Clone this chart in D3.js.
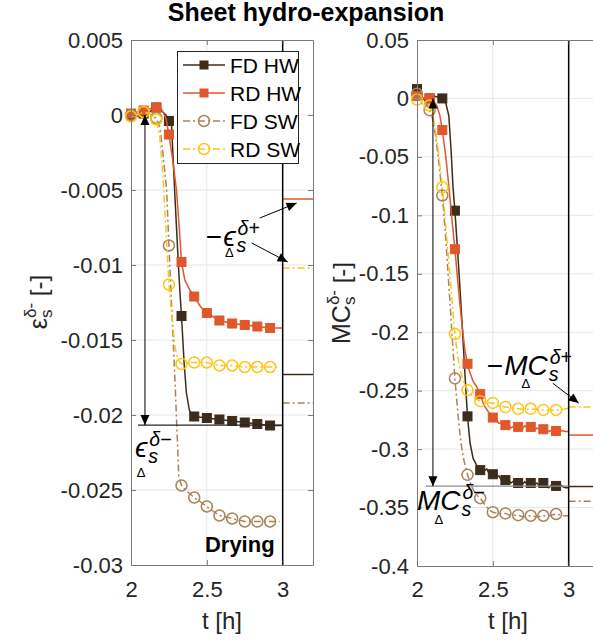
<!DOCTYPE html>
<html>
<head>
<meta charset="utf-8">
<script src="https://cdn.jsdelivr.net/npm/d3@7"></script>
<style>
  body { margin: 0; background: #fff; }
  text { font-family: "Liberation Sans", Arial, Helvetica, sans-serif; }
</style>
</head>
<body>
<svg id="chart" width="593" height="641"></svg>
<script>
// ---- data -------------------------------------------------------------
const seriesNames = ["FD HW", "RD HW", "FD SW", "RD SW"];
const seriesColors = ["#3d2c1c", "#e0572b", "#a8845a", "#ffc416"];
const seriesMarkers = ["square", "square", "circle", "circle"];
const seriesDash = [null, null, "7,3,2,3", "7,3,2,3"];

// marker sampling times [h]
const markerTimes = [2.0, 2.083, 2.167, 2.25, 2.333, 2.417, 2.5, 2.583, 2.667, 2.75, 2.833, 2.917];

// strain during drying, [t, eps]
const epsFdHw = [[2.0,0],[2.04,-0.0001],[2.083,0.0001],[2.12,0.0002],[2.167,0.0005],[2.2,0.0003],[2.23,0.0],[2.25,-0.0004],[2.267,-0.0006],[2.29,-0.0055],[2.31,-0.0095],[2.322,-0.0117],[2.333,-0.0134],[2.35,-0.0165],[2.365,-0.0185],[2.385,-0.0197],[2.417,-0.0201],[2.5,-0.0202],[2.583,-0.0203],[2.667,-0.0204],[2.75,-0.0205],[2.833,-0.0206],[2.917,-0.0207],[3.0,-0.0207]];
const epsRdHw = [[2.0,0.0001],[2.04,0.0002],[2.083,0.0003],[2.12,0.0004],[2.167,0.0005],[2.2,0.0004],[2.23,-0.0002],[2.25,-0.0013],[2.275,-0.003],[2.3,-0.005],[2.32,-0.0078],[2.333,-0.0098],[2.355,-0.011],[2.39,-0.0117],[2.417,-0.0121],[2.46,-0.0128],[2.5,-0.0132],[2.583,-0.0137],[2.667,-0.0139],[2.75,-0.014],[2.833,-0.0141],[2.917,-0.0142],[3.0,-0.0142]];
const epsFdSw = [[2.0,0.0],[2.04,0.0001],[2.083,0.0002],[2.12,0.0001],[2.167,-0.0002],[2.19,-0.0008],[2.21,-0.0025],[2.235,-0.005],[2.25,-0.0087],[2.27,-0.0132],[2.29,-0.0177],[2.305,-0.0215],[2.315,-0.0241],[2.333,-0.0247],[2.37,-0.0251],[2.417,-0.0255],[2.46,-0.0258],[2.5,-0.0261],[2.54,-0.0264],[2.583,-0.0267],[2.667,-0.0269],[2.75,-0.0271],[2.833,-0.0271],[2.917,-0.0271],[2.98,-0.0271]];
const epsRdSw = [[2.0,-0.0001],[2.04,0.0],[2.083,0.0002],[2.12,0.0001],[2.167,-0.0003],[2.19,-0.0015],[2.21,-0.004],[2.23,-0.0075],[2.25,-0.0113],[2.267,-0.0132],[2.29,-0.0155],[2.31,-0.0163],[2.333,-0.0166],[2.37,-0.0165],[2.417,-0.0165],[2.5,-0.0165],[2.583,-0.0167],[2.667,-0.0167],[2.75,-0.0168],[2.833,-0.0168],[2.917,-0.0168],[2.98,-0.0168]];
// levels reached after wetting (t > 3 h)
const epsAfter = [-0.0173, -0.0056, -0.0192, -0.0102];
const epsDeltaMinus = -0.02067;

// moisture content during drying, [t, MC]
const mcFdHw = [[2.0,0.008],[2.02,0.005],[2.04,0.0],[2.06,-0.003],[2.083,0.0],[2.11,0.002],[2.14,0.001],[2.167,0.0],[2.19,-0.004],[2.21,-0.015],[2.225,-0.045],[2.237,-0.075],[2.25,-0.096],[2.275,-0.145],[2.3,-0.198],[2.317,-0.238],[2.333,-0.272],[2.35,-0.295],[2.37,-0.308],[2.39,-0.313],[2.417,-0.318],[2.44,-0.319],[2.46,-0.317],[2.48,-0.322],[2.5,-0.3215],[2.52,-0.324],[2.54,-0.323],[2.56,-0.327],[2.583,-0.3265],[2.6,-0.326],[2.62,-0.329],[2.64,-0.327],[2.667,-0.329],[2.69,-0.331],[2.71,-0.328],[2.73,-0.33],[2.75,-0.329],[2.77,-0.331],[2.79,-0.329],[2.81,-0.332],[2.833,-0.329],[2.85,-0.331],[2.87,-0.333],[2.89,-0.33],[2.917,-0.3315],[2.94,-0.33],[2.96,-0.332],[2.98,-0.333],[3.0,-0.333]];
const mcRdHw = [[2.0,0.002],[2.03,0.0],[2.06,0.001],[2.083,0.0],[2.11,-0.002],[2.13,-0.006],[2.15,-0.014],[2.167,-0.027],[2.19,-0.05],[2.21,-0.075],[2.23,-0.103],[2.25,-0.129],[2.275,-0.165],[2.3,-0.198],[2.317,-0.216],[2.333,-0.227],[2.35,-0.235],[2.37,-0.242],[2.39,-0.246],[2.417,-0.253],[2.44,-0.262],[2.46,-0.266],[2.48,-0.27],[2.5,-0.273],[2.52,-0.274],[2.54,-0.278],[2.56,-0.277],[2.583,-0.2795],[2.6,-0.279],[2.62,-0.282],[2.64,-0.28],[2.667,-0.281],[2.69,-0.283],[2.71,-0.28],[2.73,-0.282],[2.75,-0.281],[2.77,-0.284],[2.79,-0.282],[2.81,-0.283],[2.833,-0.283],[2.86,-0.285],[2.89,-0.284],[2.917,-0.2845],[2.95,-0.284],[2.98,-0.285],[3.0,-0.285]];
const mcFdSw = [[2.0,0.004],[2.02,-0.002],[2.04,-0.006],[2.06,-0.004],[2.083,-0.01],[2.1,-0.016],[2.12,-0.03],[2.14,-0.05],[2.167,-0.083],[2.19,-0.12],[2.21,-0.16],[2.23,-0.2],[2.25,-0.2395],[2.27,-0.27],[2.29,-0.295],[2.31,-0.31],[2.333,-0.322],[2.36,-0.332],[2.39,-0.339],[2.417,-0.342],[2.45,-0.348],[2.475,-0.352],[2.5,-0.354],[2.54,-0.355],[2.583,-0.355],[2.62,-0.357],[2.667,-0.3565],[2.7,-0.358],[2.75,-0.357],[2.79,-0.358],[2.833,-0.357],[2.87,-0.357],[2.917,-0.3555],[2.96,-0.357],[3.0,-0.357]];
const mcRdSw = [[2.0,-0.001],[2.02,0.0],[2.04,-0.004],[2.06,-0.003],[2.083,-0.006],[2.1,-0.012],[2.12,-0.025],[2.14,-0.044],[2.167,-0.076],[2.19,-0.11],[2.21,-0.14],[2.23,-0.172],[2.25,-0.2015],[2.27,-0.222],[2.29,-0.235],[2.31,-0.244],[2.333,-0.2495],[2.36,-0.254],[2.39,-0.257],[2.417,-0.259],[2.45,-0.26],[2.5,-0.2605],[2.54,-0.263],[2.583,-0.264],[2.62,-0.265],[2.667,-0.2655],[2.71,-0.266],[2.75,-0.2655],[2.79,-0.266],[2.833,-0.2665],[2.87,-0.267],[2.917,-0.2665],[2.96,-0.266],[3.0,-0.265]];
const mcAfter = [-0.332, -0.288, -0.3445, -0.264];
const mcDeltaMinus = -0.3317;

// axes ticks
const xTicks = [2, 2.5, 3];
const xTickLabels = ["2", "2.5", "3"];
const epsTicks = [0.005, 0, -0.005, -0.01, -0.015, -0.02, -0.025, -0.03];
const epsTickLabels = ["0.005", "0", "-0.005", "-0.01", "-0.015", "-0.02", "-0.025", "-0.03"];
const mcTicks = [0.05, 0, -0.05, -0.1, -0.15, -0.2, -0.25, -0.3, -0.35, -0.4];
const mcTickLabels = ["0.05", "0", "-0.05", "-0.1", "-0.15", "-0.2", "-0.25", "-0.3", "-0.35", "-0.4"];

// ---- drawing ----------------------------------------------------------
const svg = d3.select("#chart");
const AXIS_COLOR = "#7a7a7a";
const GRID_COLOR = "#e6e6e6";
const TICK_FONT = 22;
const SERIF = '"Liberation Serif", "Times New Roman", serif';

svg.append("text")
  .attr("x", 306).attr("y", 21)
  .attr("text-anchor", "middle")
  .attr("font-size", 25).attr("font-weight", "bold")
  .attr("fill", "#000")
  .text("Sheet hydro-expansion");

function arrowHead(g, x1, y1, x2, y2, len, half) {
  const a = Math.atan2(y2 - y1, x2 - x1);
  const bx = x2 - len * Math.cos(a), by = y2 - len * Math.sin(a);
  const px = -Math.sin(a) * half, py = Math.cos(a) * half;
  g.append("path")
    .attr("d", `M${x2},${y2}L${bx + px},${by + py}L${bx - px},${by - py}Z`)
    .attr("fill", "#000");
}

function arrow(g, x1, y1, x2, y2, both) {
  g.append("line").attr("x1", x1).attr("y1", y1).attr("x2", x2).attr("y2", y2)
    .attr("stroke", "#000").attr("stroke-width", 1);
  arrowHead(g, x1, y1, x2, y2, 10, 4.5);
  if (both) arrowHead(g, x2, y2, x1, y1, 10, 4.5);
}

// math-style label: optional sign + base symbol with stacked sub/superscript
// and a small Δ centred beneath the base symbol
function mathLabel(g, x, y, o) {
  let xb = x;
  if (o.pre) {
    const p = g.append("text").attr("x", x).attr("y", y)
      .attr("font-family", SERIF).attr("font-size", o.size).attr("fill", "#000").text(o.pre);
    xb = x + p.node().getComputedTextLength() + 1;
  }
  const b = g.append("text").attr("x", xb).attr("y", y)
    .attr("font-family", SERIF).attr("font-style", "italic")
    .attr("font-size", o.size).attr("fill", "#000").text(o.base);
  const w = b.node().getComputedTextLength();
  g.append("text").attr("x", xb + w + 1).attr("y", y + 6)
    .attr("font-family", SERIF).attr("font-style", "italic")
    .attr("font-size", o.size * 0.7).attr("fill", "#000").text(o.sub);
  const sup = g.append("text").attr("x", xb + w + 2).attr("y", y - 11)
    .attr("font-family", SERIF).attr("font-size", o.size * 0.7).attr("fill", "#000");
  sup.append("tspan").attr("font-style", "italic").text(o.sup[0]);
  sup.append("tspan").text(o.sup.slice(1));
  g.append("text").attr("x", xb + w / 2).attr("y", y + o.underDy)
    .attr("font-family", SERIF).attr("font-size", 13)
    .attr("text-anchor", "middle").attr("fill", "#000").text("Δ");
}

function drawPanel(cfg) {
  const x = d3.scaleLinear().domain([2, 3.2]).range([cfg.left, cfg.left + 182]);
  const y = d3.scaleLinear().domain(cfg.yDomain).range([40, cfg.bottom]);
  const g = svg.append("g");
  const x0 = x(2), x1 = x(3.2), y0 = y(cfg.yDomain[0]), y1 = y(cfg.yDomain[1]);

  // background + grid
  g.append("rect").attr("x", x0).attr("y", y0).attr("width", x1 - x0).attr("height", y1 - y0)
    .attr("fill", "#fff");
  g.selectAll(".gx").data(xTicks.slice(1)).enter().append("line")
    .attr("x1", d => x(d)).attr("x2", d => x(d)).attr("y1", y0).attr("y2", y1)
    .attr("stroke", GRID_COLOR).attr("stroke-width", 1);
  g.selectAll(".gy").data(cfg.ticks.slice(1, -1)).enter().append("line")
    .attr("x1", x0).attr("x2", x1).attr("y1", d => y(d)).attr("y2", d => y(d))
    .attr("stroke", GRID_COLOR).attr("stroke-width", 1);

  // series curves
  const line = d3.line().x(d => x(d[0])).y(d => y(d[1]));
  cfg.series.forEach((s, i) => {
    g.append("path").datum(s).attr("d", line)
      .attr("fill", "none").attr("stroke", seriesColors[i]).attr("stroke-width", 1.5)
      .attr("stroke-dasharray", seriesDash[i]);
    // level after wetting
    g.append("line")
      .attr("x1", x(3)).attr("x2", x(3.2))
      .attr("y1", y(cfg.after[i])).attr("y2", y(cfg.after[i]))
      .attr("stroke", seriesColors[i]).attr("stroke-width", 1.5)
      .attr("stroke-dasharray", seriesDash[i]);
    const pts = s.filter(d => markerTimes.some(m => Math.abs(m - d[0]) < 1e-6));
    if (seriesMarkers[i] === "square") {
      g.selectAll(null).data(pts).enter().append("rect")
        .attr("x", d => x(d[0]) - 4.5).attr("y", d => y(d[1]) - 4.5)
        .attr("width", 9).attr("height", 9)
        .attr("fill", seriesColors[i]).attr("stroke", seriesColors[i]).attr("stroke-width", 1);
    } else {
      g.selectAll(null).data(pts).enter().append("circle")
        .attr("cx", d => x(d[0])).attr("cy", d => y(d[1])).attr("r", 5.5)
        .attr("fill", "none").attr("stroke", seriesColors[i]).attr("stroke-width", 1.5);
    }
  });

  // end of drying
  g.append("line").attr("x1", x(3)).attr("x2", x(3)).attr("y1", y0).attr("y2", y1)
    .attr("stroke", "#000").attr("stroke-width", 1.5);

  // reference level and total change arrow
  g.append("line")
    .attr("x1", x(cfg.refStart)).attr("x2", x(3))
    .attr("y1", y(cfg.delta)).attr("y2", y(cfg.delta))
    .attr("stroke", cfg.refColor).attr("stroke-width", 1.2);
  arrow(g, x(cfg.arrowT), y(0), x(cfg.arrowT), y(cfg.delta), true);

  // axes
  const fmt = (labels, ticks) => d => labels[ticks.indexOf(d)];
  const axB = g.append("g").attr("transform", `translate(0,${y1})`)
    .call(d3.axisBottom(x).tickValues(xTicks).tickFormat(fmt(xTickLabels, xTicks))
      .tickSizeInner(-5).tickSizeOuter(0).tickPadding(cfg.xPad));
  const axT = g.append("g").attr("transform", `translate(0,${y0})`)
    .call(d3.axisTop(x).tickValues(xTicks).tickFormat("").tickSizeInner(-5).tickSizeOuter(0));
  const axL = g.append("g").attr("transform", `translate(${x0},0)`)
    .call(d3.axisLeft(y).tickValues(cfg.ticks).tickFormat(fmt(cfg.labels, cfg.ticks))
      .tickSizeInner(-5).tickSizeOuter(0).tickPadding(8));
  const axR = g.append("g").attr("transform", `translate(${x1},0)`)
    .call(d3.axisRight(y).tickValues(cfg.ticks).tickFormat("").tickSizeInner(-5).tickSizeOuter(0));
  [axB, axT, axL, axR].forEach(a => {
    a.select(".domain").attr("stroke", AXIS_COLOR);
    a.selectAll(".tick line").attr("stroke", AXIS_COLOR);
    a.selectAll("text").attr("font-size", TICK_FONT).attr("fill", "#262626")
      .attr("font-family", '"Liberation Sans", Arial, sans-serif');
  });

  // axis titles
  svg.append("text").attr("x", (x0 + x1) / 2).attr("y", 629)
    .attr("text-anchor", "middle").attr("font-size", 24).attr("fill", "#262626")
    .text("t [h]");
  return { x, y, g };
}

const left = drawPanel({
  left: 131, bottom: 565, yDomain: [0.005, -0.03],
  ticks: epsTicks, labels: epsTickLabels,
  series: [epsFdHw, epsRdHw, epsFdSw, epsRdSw], after: epsAfter,
  delta: epsDeltaMinus, refStart: 2.046, arrowT: 2.092, refColor: "#262626", xPad: 16
});
const right = drawPanel({
  left: 417, bottom: 566, yDomain: [0.05, -0.4],
  ticks: mcTicks, labels: mcTickLabels,
  series: [mcFdHw, mcRdHw, mcFdSw, mcRdSw], after: mcAfter,
  delta: mcDeltaMinus, refStart: 2.059, arrowT: 2.105, refColor: "#8c8c8c", xPad: 15
});

// annotations, left panel
{
  const { x, y, g } = left;
  mathLabel(g, x(2.493), y(-0.0087), { pre: "−", base: "ϵ", sub: "s", sup: "δ+", size: 28, underDy: 11 });
  arrow(g, x(2.849), y(-0.00687), x(3.092), y(-0.00587));
  arrow(g, x(2.796), y(-0.00853), x(3.033), y(-0.0098));
  mathLabel(g, x(2.026), y(-0.0228), { base: "ϵ", sub: "s", sup: "δ−", size: 28, underDy: 20 });
  g.append("text").attr("x", x(2.947)).attr("y", y(-0.02915))
    .attr("text-anchor", "end").attr("font-size", 22).attr("font-weight", "bold")
    .attr("fill", "#000").text("Drying");
}
// annotations, right panel
{
  const { x, y, g } = right;
  mathLabel(g, x(2.46), y(-0.2368), { pre: "−", base: "MC", sub: "s", sup: "δ+", size: 28, underDy: 13 });
  arrow(g, x(2.895), y(-0.2436), x(3.066), y(-0.2606));
  mathLabel(g, x(2.0), y(-0.3522), { base: "MC", sub: "s", sup: "δ−", size: 28, underDy: 14 });
}

// y-axis titles with sub/superscripts
function yTitle(cx, cy, base) {
  const g = svg.append("g").attr("transform", `translate(${cx},${cy}) rotate(-90)`);
  const b = g.append("text").attr("font-size", 25).attr("fill", "#262626").text(base);
  const wb = b.node().getComputedTextLength();
  const sub = g.append("text").attr("font-size", 17).attr("fill", "#262626").attr("y", 5).text("s");
  const sup = g.append("text").attr("font-size", 17).attr("fill", "#262626").attr("y", -11).text("δ-");
  const ws = Math.max(sub.node().getComputedTextLength(), sup.node().getComputedTextLength());
  const r = g.append("text").attr("font-size", 24).attr("fill", "#262626").text("\u00a0[-]");
  const wr = r.node().getComputedTextLength();
  const total = wb + ws + wr, x0 = -total / 2;
  b.attr("x", x0); sub.attr("x", x0 + wb); sup.attr("x", x0 + wb); r.attr("x", x0 + wb + ws);
}
yTitle(47, 302, "ε");
yTitle(350, 303, "MC");

// legend
{
  const lg = svg.append("g");
  lg.append("rect").attr("x", 177.5).attr("y", 51.5).attr("width", 121).attr("height", 112)
    .attr("fill", "#fff").attr("stroke", "#262626").attr("stroke-width", 1);
  seriesNames.forEach((name, i) => {
    const yy = 65 + i * 28;
    lg.append("line").attr("x1", 183).attr("x2", 225).attr("y1", yy).attr("y2", yy)
      .attr("stroke", seriesColors[i]).attr("stroke-width", 1.5)
      .attr("stroke-dasharray", seriesDash[i]);
    if (seriesMarkers[i] === "square") {
      lg.append("rect").attr("x", 204 - 4.5).attr("y", yy - 4.5).attr("width", 9).attr("height", 9)
        .attr("fill", seriesColors[i]);
    } else {
      lg.append("circle").attr("cx", 204).attr("cy", yy).attr("r", 5.5)
        .attr("fill", "none").attr("stroke", seriesColors[i]).attr("stroke-width", 1.5);
    }
    lg.append("text").attr("x", 230).attr("y", yy).attr("dy", "0.36em")
      .attr("font-size", 21).attr("fill", "#000").text(name);
  });
}
</script>
</body>
</html>
